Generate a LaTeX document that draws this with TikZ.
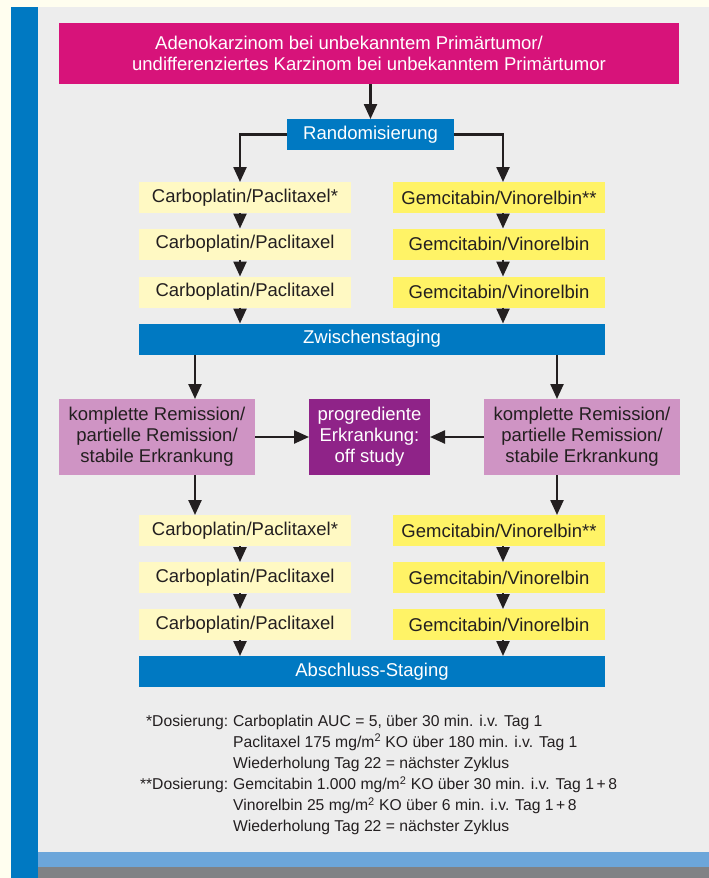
\documentclass[tikz,border=0pt]{standalone}
\usepackage{fontspec}
\setmainfont{Liberation Sans}
\usetikzlibrary{arrows.meta}

\definecolor{cream}{HTML}{FFFEEF}
\definecolor{stripe}{HTML}{0079C2}
\definecolor{panel}{HTML}{EDEDED}
\definecolor{band}{HTML}{6CA6DA}
\definecolor{bandgray}{HTML}{808285}
\definecolor{magenta}{HTML}{D7137A}
\definecolor{cpyellow}{HTML}{FFF9C3}
\definecolor{gvyellow}{HTML}{FFF366}
\definecolor{remipink}{HTML}{CF94C4}
\definecolor{offpurple}{HTML}{8F2388}
\definecolor{ink}{HTML}{231F20}

\begin{document}
\begin{tikzpicture}[x=1pt, y=-1pt,
	every node/.style={inner sep=0pt, outer sep=0pt, text=ink, font=\fontsize{18.5}{21}\selectfont},
	arr/.style={line width=2.4pt, draw=ink, -{Triangle[width=13pt,length=15pt]}},
	bluebox/.style={fill=stripe, text=white, minimum height=31pt},
	cpbox/.style={fill=cpyellow, minimum width=212pt, minimum height=31pt},
	gvbox/.style={fill=gvyellow, minimum width=212pt, minimum height=31pt},
	remibox/.style={fill=remipink, minimum width=196pt, minimum height=76pt, align=center},
	]
		% hintergrund
		\fill[cream] (0,0) rectangle (709,878);
		\fill[stripe] (11,7) rectangle (38,878);
		\fill[panel] (38,7) rectangle (709,852);
		\fill[band] (38,852) rectangle (709,867);
		\fill[bandgray] (38,867) rectangle (709,878);

		\node[fill=magenta, text=white, minimum width=620pt, minimum height=61pt, align=center] (titel) at (369,53.5)
			{Adenokarzinom bei unbekanntem Primärtumor/\hspace*{40pt}\\undifferenziertes Karzinom bei unbekanntem Primärtumor};
		\node[bluebox, minimum width=167pt] (rand) at (370.5,134.5) {Randomisierung};
		\draw[arr] (rand.north |- titel.south) -- (rand.north);

		% erste Zyklen
		\foreach \y/\s [count=\i] in {197.5/*, 244/, 292/}{
				\node[cpbox] (cpA\i) at (245,\y) {Carboplatin/Paclitaxel\s};
				\node[gvbox] (gvA\i) at (499,\y) {Gemcitabin/Vinorelbin\s\s};
		}
		\draw[arr] (rand.west) -| ([xshift=-5pt]cpA1.north);
		\draw[arr] (rand.east) -| ([xshift=4pt]gvA1.north);
		\foreach \i/\j in {1/2,2/3}{
				\draw[arr] ([xshift=-5pt]cpA\i.south) -- ([xshift=-5pt]cpA\j.north);
				\draw[arr] ([xshift=4pt]gvA\i.south) -- ([xshift=4pt]gvA\j.north);
		}

		\node[bluebox, minimum width=466pt] (zw) at (372,339) {Zwischenstaging};
		\draw[arr] ([xshift=-5pt]cpA3.south) -- ([xshift=-5pt]cpA3.south |- zw.north);
		\draw[arr] ([xshift=4pt]gvA3.south) -- ([xshift=4pt]gvA3.south |- zw.north);

		% Restaging
		\node[remibox] (remiL) at (157,437) {komplette Remission/\\partielle Remission/\\stabile Erkrankung};
		\node[remibox] (remiR) at (582,437) {komplette Remission/\\partielle Remission/\\stabile Erkrankung};
		\node[fill=offpurple, text=white, minimum width=121pt, minimum height=76pt, align=center] (off) at (369.5,437)
			{progrediente\\Erkrankung:\\off study};
		\draw[arr] ([xshift=38pt]remiL.north |- zw.south) -- ([xshift=38pt]remiL.north);
		\draw[arr] ([xshift=-25pt]remiR.north |- zw.south) -- ([xshift=-25pt]remiR.north);
		\draw[arr] (remiL) -- (off);
		\draw[arr] (remiR) -- (off);

		% weitere Zyklen
		\foreach \y/\s [count=\i] in {530.5/*, 577.5/, 624.5/}{
				\node[cpbox] (cpB\i) at (245,\y) {Carboplatin/Paclitaxel\s};
				\node[gvbox] (gvB\i) at (499,\y) {Gemcitabin/Vinorelbin\s\s};
		}
		\draw[arr] ([xshift=38pt]remiL.south) -- ([xshift=38pt]remiL.south |- cpB1.north);
		\draw[arr] ([xshift=-25pt]remiR.south) -- ([xshift=-25pt]remiR.south |- gvB1.north);
		\foreach \i/\j in {1/2,2/3}{
				\draw[arr] ([xshift=-5pt]cpB\i.south) -- ([xshift=-5pt]cpB\j.north);
				\draw[arr] ([xshift=4pt]gvB\i.south) -- ([xshift=4pt]gvB\j.north);
		}

		\node[bluebox, minimum width=466pt] (ab) at (372,671.5) {Abschluss-Staging};
		\draw[arr] ([xshift=-5pt]cpB3.south) -- ([xshift=-5pt]cpB3.south |- ab.north);
		\draw[arr] ([xshift=4pt]gvB3.south) -- ([xshift=4pt]gvB3.south |- ab.north);

		% Dosierung
		\node[anchor=base west, font=\fontsize{15.7}{21.1}\selectfont] (dosis) at (140,726) {%
			\begin{tabular}[t]{@{}r@{\hspace{5pt}}l@{}}
				*Dosierung: & Carboplatin AUC = 5, über 30 min. i.v. Tag 1\\
				& Paclitaxel 175 mg/m\textsuperscript{2} KO über 180 min. i.v. Tag 1\\
				& Wiederholung Tag 22 = nächster Zyklus\\
				\relax**Dosierung: & Gemcitabin 1.000 mg/m\textsuperscript{2} KO über 30 min. i.v. Tag 1\,+\,8\\
				& Vinorelbin 25 mg/m\textsuperscript{2} KO über 6 min. i.v. Tag 1\,+\,8\\
				& Wiederholung Tag 22 = nächster Zyklus
			\end{tabular}};

	\end{tikzpicture}
\end{document}
